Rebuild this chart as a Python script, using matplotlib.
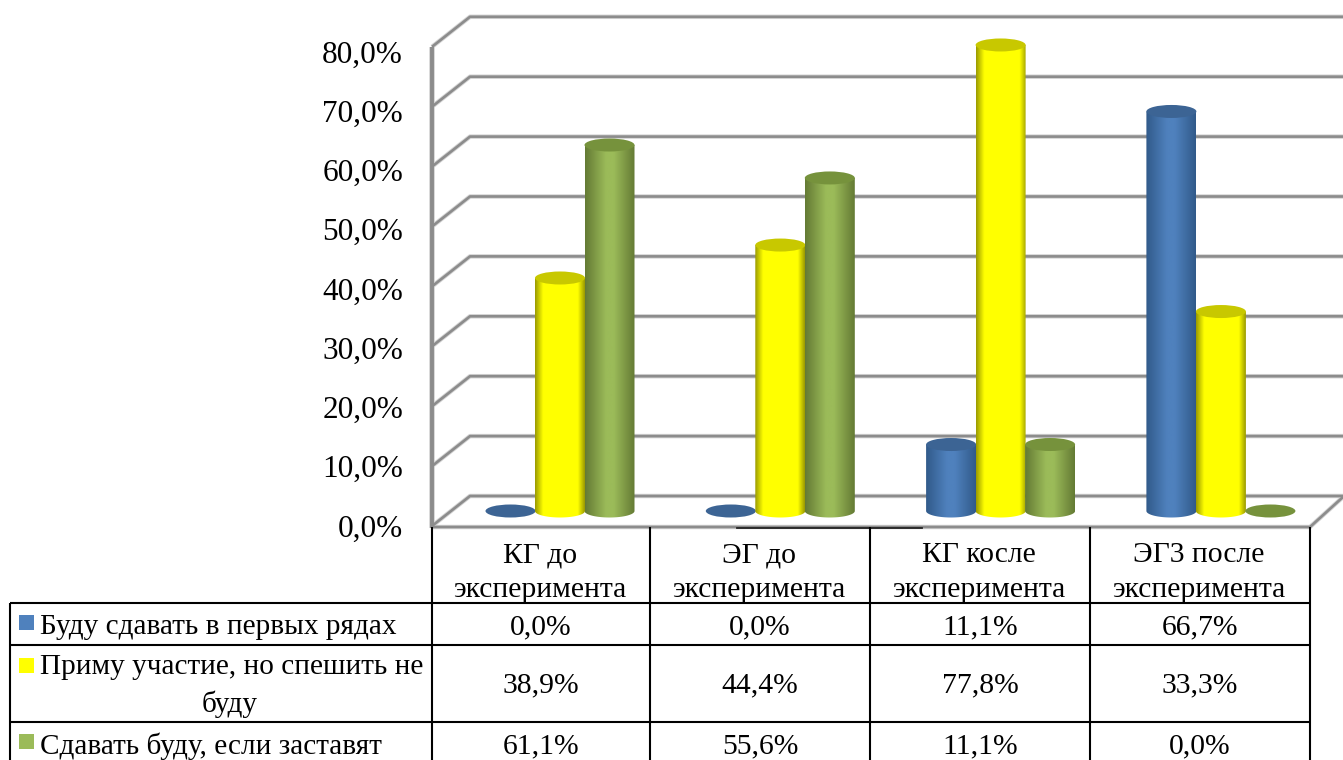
import numpy as np
import matplotlib
matplotlib.use('Agg')
import matplotlib.pyplot as plt
from matplotlib.colors import LinearSegmentedColormap
from matplotlib.patches import Ellipse, Polygon, Rectangle

categories = ["КГ до\nэксперимента", "ЭГ до\nэксперимента", "КГ косле\nэксперимента", "ЭГ3 после\nэксперимента"]
series_names = ["Буду сдавать в первых рядах", "Приму участие, но спешить не\nбуду", "Сдавать буду, если заставят"]
first_row = [0.0, 0.0, 11.1, 66.7]
second_row = [38.9, 44.4, 77.8, 33.3]
third_row = [61.1, 55.6, 11.1, 0.0]
y_ticks = [0, 10, 20, 30, 40, 50, 60, 70, 80]

W, H = 1343, 760
PX_X = 220.3    # pixels per category
PX_Y = 5.99     # pixels per percent
X0, Y0 = 560, 511
BAR_W = 50 / PX_X
CAP_H = 13 / PX_Y
OFFSET = 49.5 / PX_X

plt.rcParams['font.family'] = ['Liberation Serif', 'DejaVu Serif']
fig = plt.figure(figsize=(W / 100, H / 100), dpi=100, facecolor='white')

# pixel axes for frame and table
px = fig.add_axes([0, 0, 1, 1])
px.set_xlim(0, W)
px.set_ylim(H, 0)
px.axis('off')

# data axes for the cylinders: x is category number, y is percent
ax = fig.add_axes([0, 0, 1, 1])
ax.set_xlim(-X0 / PX_X, (W - X0) / PX_X)
ax.set_ylim((Y0 - H) / PX_Y, Y0 / PX_Y)
ax.axis('off')
ax.patch.set_alpha(0)


def frame_line(xs, ys, lw=1.9):
    px.plot(xs, ys, color='#d4d4d4', lw=lw + 1.3, solid_capstyle='butt', zorder=1)
    px.plot(xs, ys, color='#8c8c8c', lw=lw, solid_capstyle='butt', zorder=2)


for t in y_ticks:
    front = 526 - t * PX_Y
    back = 496 - t * PX_Y
    frame_line([432, 470, W], [front, back, back])
    px.text(403, 529 - t * 5.925, f"{t},0%", ha='right', va='center', fontsize=22.5)

frame_line([432, 432], [47, 528], lw=2.8)
frame_line([432, 1310, W], [527, 527, 497])
px.plot([737, 922], [528, 528], color='#222222', lw=1.3, zorder=3)


def cylinder(x, value, edge, mid, top, stops):
    if value == 0:
        ax.add_patch(Ellipse((x, 0), BAR_W, CAP_H, facecolor=top, edgecolor='none', zorder=5))
        return
    left, right = x - BAR_W / 2, x + BAR_W / 2
    t = np.linspace(np.pi, 2 * np.pi, 40)
    outline = np.column_stack([x + BAR_W / 2 * np.cos(t), CAP_H / 2 * np.sin(t)])
    outline = np.vstack([[left, value], outline, [right, value]])
    cmap = LinearSegmentedColormap.from_list('c', list(zip(stops, [edge, mid, mid, edge])))
    grad = np.linspace(0, 1, 128).reshape(1, -1)
    im = ax.imshow(grad, cmap=cmap, extent=[left, right, -CAP_H, value], aspect='auto', zorder=5,
                   interpolation='bilinear')
    im.set_clip_path(Polygon(outline, closed=True, transform=ax.transData))
    ax.add_patch(Ellipse((x, value), BAR_W, CAP_H, facecolor=top, edgecolor='none', zorder=5))


styles = [
    ('#315a8a', '#4f81bd', '#3c6494', [0, 0.42, 0.58, 1]),
    ('#9a9a00', '#ffff00', '#c8c800', [0, 0.16, 0.86, 1]),
    ('#647a34', '#9bbb59', '#76923c', [0, 0.42, 0.58, 1]),
]
swatches = ['#4f81bd', '#ffff00', '#9bbb59']
rows = [first_row, second_row, third_row]

for s, values in enumerate(rows):
    for i, v in enumerate(values):
        cylinder(i + (s - 1) * OFFSET, v, *styles[s])
ax.set_xlim(-X0 / PX_X, (W - X0) / PX_X)
ax.set_ylim((Y0 - H) / PX_Y, Y0 / PX_Y)

# data table below the chart
col_x = [432, 650, 870, 1090, 1310]
row_y = [603, 645, 722]
TABLE_FS = 21.3
LEGEND_FS = 21.1


def table_line(xs, ys):
    px.plot(xs, ys, color='black', lw=1.5, solid_capstyle='butt', zorder=4)


for x in col_x:
    table_line([x, x], [527, H])
for y in row_y:
    table_line([10, 1310], [y, y])
table_line([10, 10], [603, H])

for i, name in enumerate(categories):
    top_line, bottom_line = name.split("\n")
    cx = (col_x[i] + col_x[i + 1]) / 2 - 1
    px.text(cx, 555, top_line, ha='center', va='center', fontsize=TABLE_FS)
    px.text(cx, 590, bottom_line, ha='center', va='center', fontsize=TABLE_FS)

text_y = [627, 685, 746]
for s, values in enumerate(rows):
    for i, v in enumerate(values):
        cx = (col_x[i] + col_x[i + 1]) / 2
        label = f"{v:.1f}".replace(".", ",") + "%"
        px.text(cx, text_y[s], label, ha='center', va='center', fontsize=TABLE_FS)

swatch_y = [615, 658, 734]
for s, name in enumerate(series_names):
    px.add_patch(Rectangle((19, swatch_y[s]), 15, 15, facecolor=swatches[s], edgecolor='none', zorder=4))

px.text(40, 627, series_names[0], ha='left', va='center', fontsize=LEGEND_FS)
first, second = series_names[1].split("\n")
px.text(40, 667, first, ha='left', va='center', fontsize=LEGEND_FS)
px.text(230, 704, second, ha='center', va='center', fontsize=LEGEND_FS)
px.text(40, 746, series_names[2], ha='left', va='center', fontsize=LEGEND_FS)

fig.savefig('out.png', dpi=100)
